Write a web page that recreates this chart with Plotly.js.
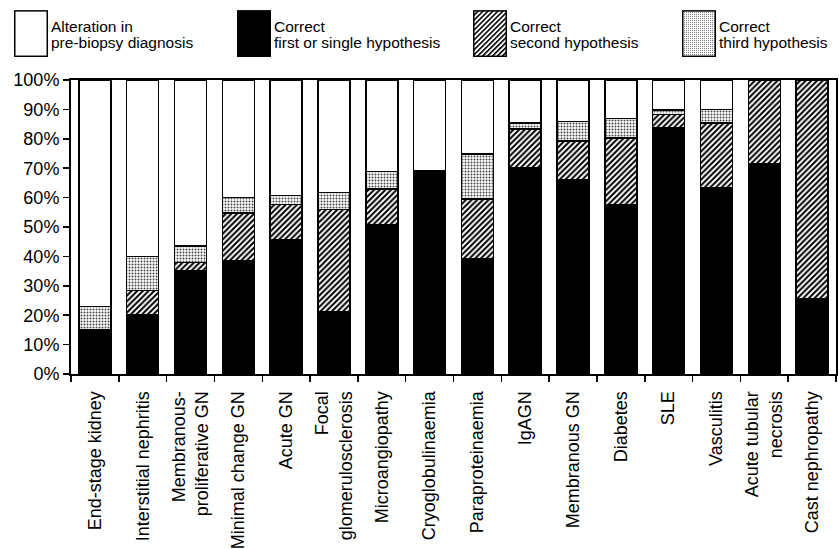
<!DOCTYPE html>
<html>
<head>
<meta charset="utf-8">
<script src="https://cdn.plot.ly/plotly-3.0.1.min.js"></script>
<style>html,body{margin:0;padding:0;background:#fff;}#chart{width:839px;height:549px;}</style>
</head>
<body>
<div id="chart"></div>
<script>
// Categories (tick labels)
const categories = [
  "End-stage kidney", "Interstitial nephritis", "Membranous-<br>proliferative GN",
  "Minimal change GN", "Acute GN", "Focal<br>glomerulosclerosis", "Microangiopathy",
  "Cryoglobulinaemia", "Paraproteinaemia", "IgAGN", "Membranous GN", "Diabetes",
  "SLE", "Vasculitis", "Acute tubular<br>necrosis", "Cast nephropathy"
];
// Series values (percent of biopsies)
const correctFirst  = [15.2, 20.0, 35.2, 38.6, 45.8, 21.1, 50.7, 69.2, 39.1, 70.3, 66.1, 57.4, 83.6, 63.5, 71.6, 25.5];
const correctSecond = [0.0, 8.4, 2.8, 16.1, 11.8, 34.8, 12.3, 0.0, 20.4, 13.1, 13.2, 22.8, 4.6, 21.9, 28.4, 74.5];
const correctThird  = [7.7, 11.6, 5.6, 5.4, 3.2, 5.9, 5.9, 0.0, 15.4, 1.9, 6.6, 6.7, 1.6, 4.5, 0.0, 0.0];
const alteration    = [77.1, 60.0, 56.4, 39.9, 39.2, 38.2, 31.1, 30.8, 25.1, 14.7, 14.1, 13.1, 10.2, 10.1, 0.0, 0.0];
const yTickValues = [0, 10, 20, 30, 40, 50, 60, 70, 80, 90, 100];
const yTickLabels = ["0%", "10%", "20%", "30%", "40%", "50%", "60%", "70%", "80%", "90%", "100%"];
const seriesNames = [
  ["Alteration in", "pre-biopsy diagnosis"],
  ["Correct", "first or single hypothesis"],
  ["Correct", "second hypothesis"],
  ["Correct", "third hypothesis"]
];

const FONT = "Liberation Sans, Arial, Helvetica, sans-serif";
const outline = {color: "black", width: 1.5};
const hatch = {shape: "/", fgcolor: "black", bgcolor: "white", size: 4, solidity: 0.5};
const dots  = {shape: ".", fgcolor: "#444", bgcolor: "white", size: 3, solidity: 0.35};

const traces = [
  {type: "bar", x: categories, y: correctFirst,  name: seriesNames[1].join(" "),
   marker: {color: "black", line: outline}},
  {type: "bar", x: categories, y: correctSecond, name: seriesNames[2].join(" "),
   marker: {color: "white", line: outline, pattern: hatch}},
  {type: "bar", x: categories, y: correctThird,  name: seriesNames[3].join(" "),
   marker: {color: "white", line: outline, pattern: dots}},
  {type: "bar", x: categories, y: alteration,    name: seriesNames[0].join(" "),
   marker: {color: "white", line: outline}}
].map(t => Object.assign(t, {hoverinfo: "skip", showlegend: false}));

// --- custom legend (large swatches) ---
const W = 839, H = 549, L = 71, R = 3, T = 80, B = 174.5;
const pw = W - L - R, ph = H - T - B;
const px = v => (v - L) / pw;
const py = v => (H - B - v) / ph;

function swatch(kind) {
  let defs = "", fill = "white";
  if (kind === "black") fill = "black";
  if (kind === "hatch") {
    defs = '<defs><pattern id="p" width="3.5" height="3.5" patternUnits="userSpaceOnUse" patternTransform="rotate(45)">' +
           '<rect width="3.5" height="3.5" fill="white"/><rect x="0" y="0" width="1.6" height="3.5" fill="black"/></pattern></defs>';
    fill = "url(#p)";
  }
  if (kind === "dots") {
    defs = '<defs><pattern id="p" width="2" height="2" patternUnits="userSpaceOnUse">' +
           '<rect width="2" height="2" fill="white"/><rect x="0" y="0" width="1" height="1" fill="#777"/></pattern></defs>';
    fill = "url(#p)";
  }
  const svg = '<svg xmlns="http://www.w3.org/2000/svg" width="34" height="47" viewBox="0 0 34 47">' + defs +
              '<rect x="0.75" y="0.75" width="32.5" height="45.5" fill="' + fill + '" stroke="black" stroke-width="1.5"/></svg>';
  return "data:image/svg+xml;charset=utf-8," + encodeURIComponent(svg);
}
const legendX = [14, 237, 473, 682];
const legendKinds = ["white", "black", "hatch", "dots"];
const images = legendX.map((x, i) => ({
  source: swatch(legendKinds[i]), xref: "paper", yref: "paper",
  x: px(x), y: py(10), sizex: 34 / pw, sizey: 47 / ph,
  xanchor: "left", yanchor: "top", sizing: "stretch", layer: "above"
}));
const annotations = [];
legendX.forEach((x, i) => {
  [26, 42].forEach((yy, j) => {
    annotations.push({
      text: seriesNames[i][j], xref: "paper", yref: "paper",
      x: px(x + 35), y: py(yy), xanchor: "left", yanchor: "middle",
      showarrow: false, font: {family: FONT, size: 15.5, color: "black"}
    });
  });
});

const layout = {
  width: W, height: H,
  margin: {l: L, r: R, t: T, b: B, pad: 0},
  paper_bgcolor: "white", plot_bgcolor: "white",
  barmode: "stack", bargap: 0.33,
  showlegend: false,
  font: {family: FONT, color: "black"},
  xaxis: {
    type: "category", tickangle: -90, tickson: "boundaries",
    ticks: "outside", ticklen: 6, tickwidth: 1.5, tickcolor: "black",
    ticklabelstandoff: 8,
    showline: true, linecolor: "black", linewidth: 2, mirror: true,
    showgrid: false, zeroline: false,
    tickfont: {family: FONT, size: 18, color: "black"}
  },
  yaxis: {
    range: [0, 100], tickmode: "array", tickvals: yTickValues, ticktext: yTickLabels,
    ticks: "outside", ticklen: 6, tickwidth: 1.5, tickcolor: "black",
    showline: true, linecolor: "black", linewidth: 2, mirror: true,
    showgrid: false, zeroline: false,
    tickfont: {family: FONT, size: 18, color: "black"}
  },
  images: images,
  annotations: annotations
};

Plotly.newPlot("chart", traces, layout, {staticPlot: true, displayModeBar: false});
</script>
</body>
</html>
